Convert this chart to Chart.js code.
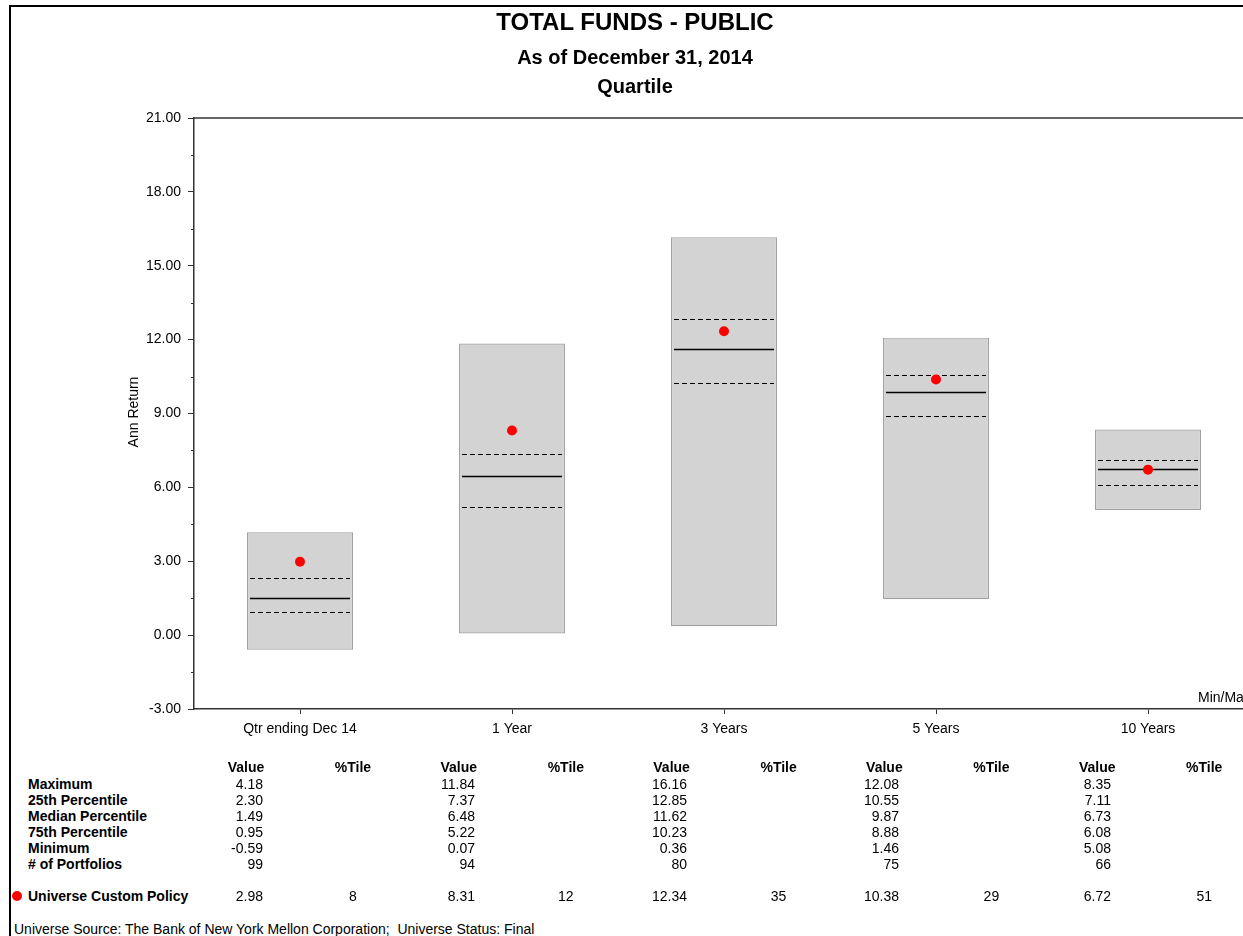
<!DOCTYPE html>
<html>
<head>
<meta charset="utf-8">
<script src="https://cdn.jsdelivr.net/npm/chart.js@4/dist/chart.umd.min.js"></script>
<style>
  html, body { margin: 0; padding: 0; background: #fff; overflow: hidden; width: 1243px; height: 936px; }
  body { font-family: "Liberation Sans", Arial, sans-serif; color: #000; position: relative; }
  #frame { position: absolute; left: 9px; top: 5px; width: 1400px; height: 1000px; border-left: 2px solid #000; border-top: 2px solid #000; }
  #wrap { position: absolute; left: 0; top: 0; width: 1300px; height: 760px; }
  #c { display: block; width: 1300px; height: 760px; }
  .t { position: absolute; white-space: nowrap; }
  .title { left: 335px; width: 600px; text-align: center; font-weight: bold; }
  .b { font-weight: bold; }
</style>
</head>
<body>
<div id="frame"></div>
<div id="wrap"><canvas id="c" width="1300" height="760"></canvas></div>
<div class="t title" style="top:8px;font-size:24px;line-height:28px;">TOTAL FUNDS - PUBLIC</div>
<div class="t title" style="top:45px;font-size:20px;line-height:24px;">As of December 31, 2014</div>
<div class="t title" style="top:74px;font-size:20px;line-height:24px;">Quartile</div>
<div class="t" style="left:83px;top:403px;width:100px;text-align:center;font-size:14px;line-height:18px;transform:rotate(-90deg);">Ann Return</div>
<div class="t" style="left:1198px;top:688px;font-size:14px;line-height:18px;">Min/Max</div>
<div id="table"></div>
<script>
// ---- data ----
const categories = ['Qtr ending Dec 14', '1 Year', '3 Years', '5 Years', '10 Years'];
const maximum    = [4.18, 11.84, 16.16, 12.08, 8.35];
const pct25      = [2.30, 7.37, 12.85, 10.55, 7.11];
const median     = [1.49, 6.48, 11.62, 9.87, 6.73];
const pct75      = [0.95, 5.22, 10.23, 8.88, 6.08];
const minimum    = [-0.59, 0.07, 0.36, 1.46, 5.08];
const portfolios = [99, 94, 80, 75, 66];
const policyName = 'Universe Custom Policy';
const policy     = [2.98, 8.31, 12.34, 10.38, 6.72];
const policyRank = [8, 12, 35, 29, 51];
const rowLabels  = ['Maximum', '25th Percentile', 'Median Percentile', '75th Percentile', 'Minimum', '# of Portfolios'];
const yMin = -3, yMax = 21, yStep = 1.5;
const sourceText = 'Universe Source: The Bank of New York Mellon Corporation;\u00a0\u00a0Universe Status: Final';

const FONT = '"Liberation Sans", Arial, sans-serif';

const quartilePlugin = {
  id: 'quartiles',
  afterDatasetDraw(chart, args) {
    if (args.meta.type !== 'bar') return;
    const ctx = chart.ctx;
    const y = chart.scales.y;
    args.meta.data.forEach((bar, i) => {
      const half = bar.width / 2 - 3;
      const x0 = bar.x - half, x1 = bar.x + half;
      ctx.save();
      ctx.strokeStyle = '#000';
      ctx.lineWidth = 1;
      ctx.setLineDash([5, 3]);
      [pct25[i], pct75[i]].forEach(v => {
        const py = Math.round(y.getPixelForValue(v)) + 0.5;
        ctx.beginPath(); ctx.moveTo(x0, py); ctx.lineTo(x1, py); ctx.stroke();
      });
      ctx.setLineDash([]);
      ctx.lineWidth = 1.3;
      const my = Math.round(y.getPixelForValue(median[i])) + 0.5;
      ctx.beginPath(); ctx.moveTo(x0, my); ctx.lineTo(x1, my); ctx.stroke();
      ctx.restore();
    });
  },
  afterDraw(chart) {
    const ctx = chart.ctx, a = chart.chartArea, y = chart.scales.y;
    ctx.save();
    ctx.strokeStyle = '#333';
    ctx.lineWidth = 1.5;
    ctx.beginPath(); ctx.moveTo(a.left, a.top); ctx.lineTo(a.right, a.top); ctx.stroke();
    // minor ticks
    ctx.lineWidth = 1;
    for (let v = yMin + yStep; v < yMax; v += 2 * yStep) {
      const py = Math.round(y.getPixelForValue(v)) + 0.5;
      ctx.beginPath(); ctx.moveTo(a.left - 3, py); ctx.lineTo(a.left, py); ctx.stroke();
    }
    ctx.restore();
  }
};

new Chart(document.getElementById('c'), {
  type: 'bar',
  data: {
    labels: categories,
    datasets: [
      {
        type: 'line',
        label: policyName,
        data: policy,
        showLine: false,
        pointRadius: 5,
        pointHoverRadius: 5,
        pointBackgroundColor: '#ff0000',
        pointBorderWidth: 0,
        order: 1
      },
      {
        type: 'bar',
        label: 'Min/Max',
        data: categories.map((c, i) => [minimum[i], maximum[i]]),
        backgroundColor: '#d3d3d3',
        borderColor: '#a0a0a0',
        borderWidth: 1.2,
        borderSkipped: false,
        barPercentage: 0.5,
        categoryPercentage: 1,
        order: 2
      }
    ]
  },
  options: {
    responsive: false,
    maintainAspectRatio: false,
    animation: false,
    devicePixelRatio: 1,
    layout: { padding: { left: 0, top: 118, right: 46, bottom: 11 } },
    plugins: { legend: { display: false }, title: { display: false }, tooltip: { enabled: false } },
    scales: {
      x: {
        offset: true,
        grid: { offset: false, drawOnChartArea: false, drawTicks: true, tickLength: 5, color: '#333' },
        border: { display: true, color: '#333', width: 1.5 },
        ticks: { color: '#000', font: { family: FONT, size: 14 }, padding: 7, maxRotation: 0, autoSkip: false },
        afterFit(s) { s.height = 40; }
      },
      y: {
        min: yMin, max: yMax,
        grid: {
          drawOnChartArea: false, drawTicks: true, tickLength: 6,
          color: ctx => (ctx.tick && Math.abs(ctx.tick.value % 3) < 1e-9) ? '#333' : 'rgba(0,0,0,0)'
        },
        border: { display: true, color: '#333', width: 1.5 },
        ticks: {
          stepSize: yStep, autoSkip: false, color: '#000', padding: 7,
          font: { family: FONT, size: 14 },
          callback: v => (Math.abs(v % 3) < 1e-9) ? v.toFixed(2) : ''
        },
        afterFit(s) { s.width = 194; }
      }
    }
  },
  plugins: [quartilePlugin]
});
</script>
<script>
// ---- table below chart ----
(function () {
  const t = document.getElementById('table');
  function add(text, x, yc, opts) {
    const d = document.createElement('div');
    d.className = 't' + (opts.bold ? ' b' : '');
    d.textContent = text;
    d.style.fontSize = '14px';
    d.style.lineHeight = '16px';
    d.style.top = (yc - 8) + 'px';
    if (opts.align === 'right') { d.style.left = (x - 200) + 'px'; d.style.width = '200px'; d.style.textAlign = 'right'; }
    else if (opts.align === 'center') { d.style.left = (x - 50) + 'px'; d.style.width = '100px'; d.style.textAlign = 'center'; }
    else { d.style.left = x + 'px'; }
    t.appendChild(d);
  }
  const headerY = 767, rowY0 = 784, rowDY = 16, polY = 896;
  const rows = [maximum, pct25, median, pct75, minimum];
  rowLabels.forEach((l, r) => add(l, 28, rowY0 + r * rowDY, { bold: true }));
  add(policyName, 28, polY, { bold: true });
  const dot = document.createElement('div');
  dot.style.cssText = 'position:absolute;left:12px;top:891px;width:10px;height:10px;border-radius:5px;background:#ff0000;';
  t.appendChild(dot);
  categories.forEach((c, i) => {
    const vc = 246 + 212.8 * i;
    const pc = 353 + 212.8 * i;
    const vr = 263 + 212 * i;
    add('Value', vc, headerY, { bold: true, align: 'center' });
    add('%Tile', pc, headerY, { bold: true, align: 'center' });
    rows.forEach((arr, r) => add(arr[i].toFixed(2), vr, rowY0 + r * rowDY, { align: 'right' }));
    add(String(portfolios[i]), vr, rowY0 + 5 * rowDY, { align: 'right' });
    add(policy[i].toFixed(2), vr, polY, { align: 'right' });
    add(String(policyRank[i]), pc, polY, { align: 'center' });
  });
  add(sourceText, 14, 929, {});
})();
</script>
</body>
</html>
